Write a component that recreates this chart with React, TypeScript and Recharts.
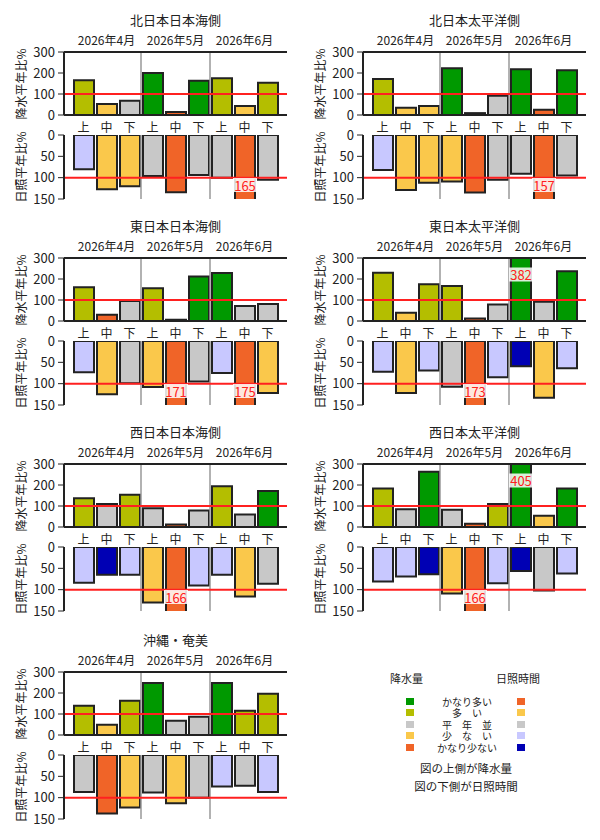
import { BarChart, Bar, XAxis, YAxis, Cell, ReferenceLine, LabelList } from 'recharts'

const FONT = '"Noto Sans CJK JP", "Noto Sans", sans-serif'
const INK = '#222'
const RED = '#ff2020'

const regions = ['北日本日本海側', '北日本太平洋側', '東日本日本海側', '東日本太平洋側', '西日本日本海側', '西日本太平洋側', '沖縄・奄美']
const months = ['2026年4月', '2026年5月', '2026年6月']
const thirds = ['上', '中', '下']
const precipTicks = [0, 100, 200, 300]
const sunTicks = [0, 50, 100, 150]
const NORMAL = 100

// 平年比 (%) per 旬, one row per region
const precipPct = [
  [166, 52, 68, 200, 14, 163, 175, 43, 153],
  [171, 35, 43, 223, 9, 92, 218, 25, 213],
  [161, 30, 95, 156, 6, 212, 228, 72, 81],
  [230, 39, 175, 167, 12, 78, 382, 92, 237],
  [137, 110, 153, 89, 12, 78, 194, 59, 171],
  [183, 85, 263, 82, 16, 109, 405, 54, 183],
  [139, 49, 163, 248, 68, 87, 248, 115, 196],
]
const sunPct = [
  [80, 127, 120, 96, 134, 94, 100, 165, 105],
  [82, 129, 112, 109, 135, 105, 91, 157, 95],
  [73, 125, 99, 108, 171, 95, 75, 175, 122],
  [72, 122, 69, 107, 173, 85, 59, 133, 64],
  [84, 65, 65, 130, 166, 90, 65, 116, 86],
  [81, 69, 64, 109, 166, 85, 56, 102, 62],
  [87, 137, 123, 88, 113, 100, 74, 72, 87],
]

// 階級: 2 かなり多い, 1 多い, 0 平年並, -1 少ない, -2 かなり少ない
const precipClass = [
  [1, -1, 0, 2, -2, 2, 1, -1, 1],
  [1, -1, -1, 2, -2, 0, 2, -2, 2],
  [1, -2, 0, 1, -2, 2, 2, 0, 0],
  [1, -1, 1, 1, -2, 0, 2, 0, 2],
  [1, 0, 1, 0, -2, 0, 1, 0, 2],
  [1, 0, 2, 0, -2, 1, 2, -1, 2],
  [1, -1, 1, 2, 0, 0, 2, 1, 1],
]
const sunClass = [
  [-1, 1, 1, 0, 2, 0, 0, 2, 0],
  [-1, 1, 1, 1, 2, 0, 0, 2, 0],
  [-1, 1, 0, 1, 2, 0, -1, 2, 1],
  [-1, 1, -1, 0, 2, -1, -2, 1, -1],
  [-1, -2, -1, 1, 2, -1, -1, 1, 0],
  [-1, -1, -2, 1, 2, -1, -2, 0, -1],
  [0, 2, 1, 0, 1, 0, -1, 0, -1],
]

const legendClasses = [2, 1, 0, -1, -2]
const legendLabels = ['かなり多い', '多　い', '平　年　並', '少　な　い', 'かなり少ない']

const precipColors: Record<number, string> = { 2: '#009900', 1: '#b4be00', 0: '#c8c8c8', [-1]: '#fac84b', [-2]: '#f06428' }
const sunColors: Record<number, string> = { 2: '#f06428', 1: '#fac84b', 0: '#c8c8c8', [-1]: '#c8c8ff', [-2]: '#0000b4' }

// panel grid
const colX = [0, 299]
const rowY = [0, 206, 412, 620]

const PAD = { left: 8, right: 8 }
const MARGIN_L = 20
const AXIS_W = 44
const MARGIN_R = 13
const border = { stroke: INK, strokeWidth: 2 }
const monthEdges = months.slice(1).map((_, i) => (i + 1) * thirds.length)

// clipped bars get their value written near the cut edge
function overflowLabel(max: number, cy: number) {
  return (props: any) => {
    const vb = props.viewBox ?? props
    const value = Number(props.value)
    if (!(value > max)) return null
    const cx = (vb.x ?? props.x) + (vb.width ?? props.width) / 2
    return (
      <g>
        <rect x={cx - 12} y={cy - 7} width={24} height={14} fill="#fff" fillOpacity={0.85} />
        <text x={cx} y={cy} textAnchor="middle" dominantBaseline="central" fill={RED} fontSize={13}>
          {value}
        </text>
      </g>
    )
  }
}

function AxisTitle({ text, x, y }: { text: string; x: number; y: number }) {
  return (
    <div
      style={{
        position: 'absolute', left: x, top: y, transform: 'translate(-50%, -50%) rotate(-90deg)',
        whiteSpace: 'nowrap', fontSize: 12, lineHeight: '14px', color: INK,
      }}
    >
      {text}
    </div>
  )
}

function Panel({ idx }: { idx: number }) {
  const left = colX[idx % 2]
  const top = rowY[Math.floor(idx / 2)]
  const rows = precipPct[idx].map((p, i) => ({
    id: i, precip: p, sun: sunPct[idx][i], pc: precipClass[idx][i], sc: sunClass[idx][i],
  }))

  return (
    <div style={{ position: 'absolute', left, top, width: 300, height: 206 }}>
      <div style={{ position: 'absolute', left: 64, width: 223, top: 12, textAlign: 'center', fontSize: 13, lineHeight: '16px', color: INK }}>
        {regions[idx]}
      </div>
      <AxisTitle text="降水平年比%" x={20.5} y={83.5} />
      <AxisTitle text="日照平年比%" x={20.5} y={167} />

      <div style={{ position: 'absolute', left: 0, top: 24 }}>
        <BarChart width={300} height={111} data={rows} barSize={20}
          margin={{ top: 4, right: MARGIN_R, bottom: 0, left: MARGIN_L }}>
          <XAxis xAxisId="month" orientation="top" dataKey="id" height={24} padding={PAD}
            interval={0} tickSize={0} tickMargin={7} tickLine={false} axisLine={border}
            tick={{ fill: INK, fontSize: 12 }}
            tickFormatter={(v: number) => (v % 3 === 1 ? months[(v - 1) / 3] : '')} />
          <XAxis xAxisId="cat" dataKey="id" height={20} padding={PAD}
            interval={0} tickSize={0} tickMargin={8} tickLine={false} axisLine={border}
            tick={{ fill: INK, fontSize: 12 }}
            tickFormatter={(v: number) => thirds[v % 3]} />
          <XAxis xAxisId="grid" type="number" dataKey="id" domain={[0, 9]} hide padding={PAD} />
          <YAxis width={AXIS_W} domain={[0, 300]} ticks={precipTicks} interval={0} allowDataOverflow
            tick={{ fill: INK, fontSize: 13 }} tickSize={6} tickMargin={3}
            tickLine={{ stroke: INK }} axisLine={border} />
          <YAxis yAxisId="edge" orientation="right" width={0} domain={[0, 1]} ticks={[]} tick={false}
            tickLine={false} axisLine={border} />
          {monthEdges.map((x) => (
            <ReferenceLine key={x} xAxisId="grid" x={x} stroke="#999" strokeWidth={1.5} />
          ))}
          <Bar xAxisId="cat" dataKey="precip" isAnimationActive={false} stroke={INK} strokeWidth={2}>
            {rows.map((r) => <Cell key={r.id} fill={precipColors[r.pc]} />)}
            <LabelList dataKey="precip" content={overflowLabel(300, 44.5)} />
          </Bar>
          <ReferenceLine xAxisId="cat" y={NORMAL} stroke={RED} strokeWidth={2} />
        </BarChart>
      </div>

      <div style={{ position: 'absolute', left: 0, top: 125 }}>
        <BarChart width={300} height={84} data={rows} barSize={20}
          margin={{ top: 10, right: MARGIN_R, bottom: 10, left: MARGIN_L }}>
          <XAxis xAxisId="cat" orientation="top" dataKey="id" height={0} padding={PAD}
            tick={false} tickLine={false} axisLine={border} />
          <XAxis xAxisId="base" dataKey="id" height={0} tick={false} tickLine={false} axisLine={border} />
          <XAxis xAxisId="grid" type="number" dataKey="id" domain={[0, 9]} hide padding={PAD} />
          <YAxis width={AXIS_W} reversed domain={[0, 150]} ticks={sunTicks} interval={0} allowDataOverflow
            tick={{ fill: INK, fontSize: 13 }} tickSize={6} tickMargin={3}
            tickLine={{ stroke: INK }} axisLine={border} />
          <YAxis yAxisId="edge" orientation="right" width={0} domain={[0, 1]} ticks={[]} tick={false}
            tickLine={false} axisLine={border} />
          {monthEdges.map((x) => (
            <ReferenceLine key={x} xAxisId="grid" x={x} stroke="#999" strokeWidth={1.5} />
          ))}
          <Bar xAxisId="cat" dataKey="sun" isAnimationActive={false} stroke={INK} strokeWidth={2}>
            {rows.map((r) => <Cell key={r.id} fill={sunColors[r.sc]} />)}
            <LabelList dataKey="sun" content={overflowLabel(150, 60)} />
          </Bar>
          <ReferenceLine xAxisId="cat" y={NORMAL} stroke={RED} strokeWidth={2} />
        </BarChart>
      </div>
    </div>
  )
}

function Legend() {
  const text = { position: 'absolute' as const, color: INK, whiteSpace: 'nowrap' as const }
  return (
    <div style={{ position: 'absolute', left: 0, top: 0 }}>
      <div style={{ ...text, left: 390, top: 670, fontSize: 11, lineHeight: '16px' }}>降水量</div>
      <div style={{ ...text, left: 496, top: 670, fontSize: 11, lineHeight: '16px' }}>日照時間</div>
      {legendClasses.map((c, i) => {
        const cy = 701.5 + i * 11.45
        return (
          <div key={c}>
            <div style={{ position: 'absolute', left: 406, top: cy - 3.5, width: 8, height: 7, background: precipColors[c] }} />
            <div style={{ position: 'absolute', left: 517, top: cy - 3.5, width: 8, height: 7, background: sunColors[c] }} />
            <div style={{ ...text, left: 417, width: 100, top: cy - 5.5, textAlign: 'center', fontSize: 10, lineHeight: '11px', height: 11 }}>
              {legendLabels[i]}
            </div>
          </div>
        )
      })}
      <div style={{ ...text, left: 400, width: 132, top: 760, textAlign: 'center', fontSize: 11.5, lineHeight: '16px' }}>
        図の上側が降水量
      </div>
      <div style={{ ...text, left: 400, width: 132, top: 778, textAlign: 'center', fontSize: 11.5, lineHeight: '16px' }}>
        図の下側が日照時間
      </div>
    </div>
  )
}

export default function App() {
  return (
    <div style={{ position: 'absolute', left: 0, top: 0, width: 600, height: 840, background: '#fff', fontFamily: FONT }}>
      {regions.map((_, i) => <Panel key={i} idx={i} />)}
      <Legend />
    </div>
  )
}
